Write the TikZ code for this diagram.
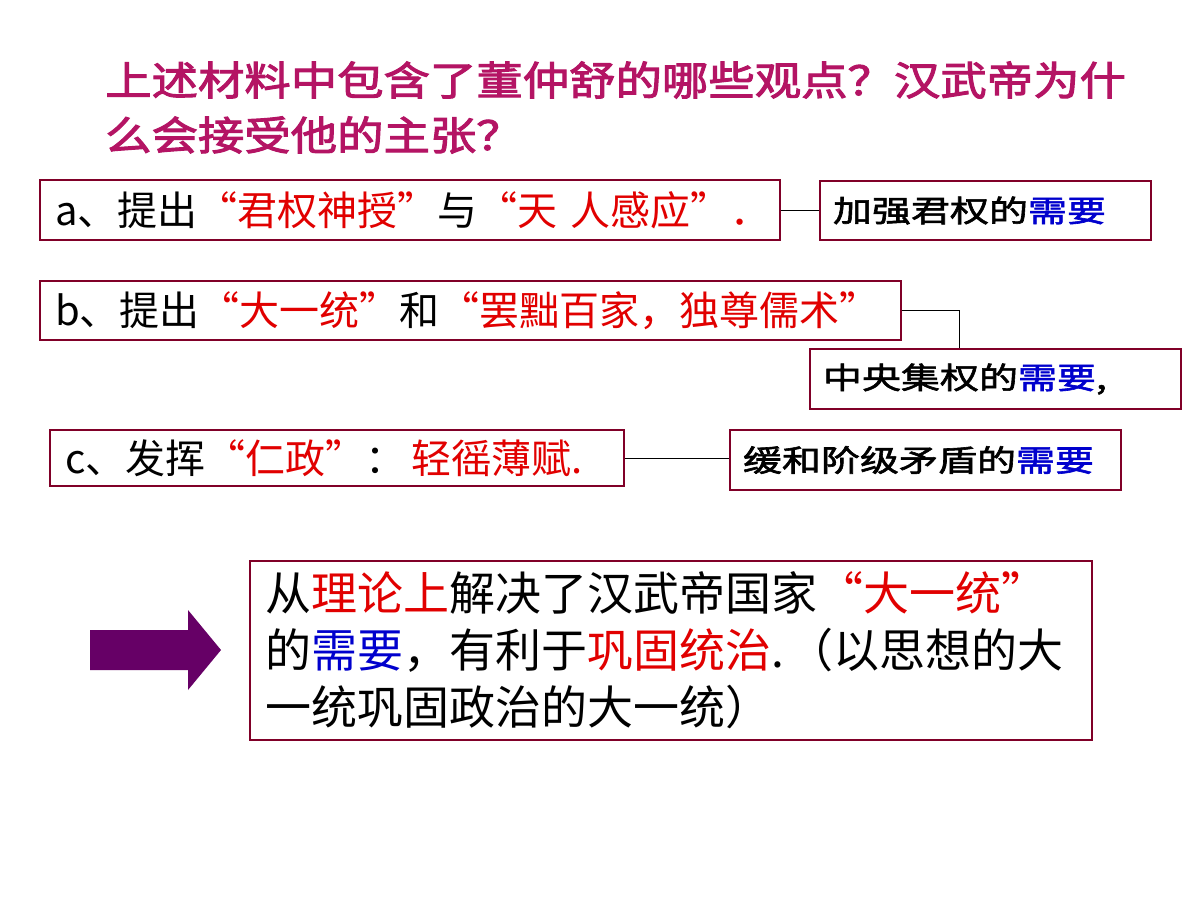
\documentclass[tikz,border=0pt]{standalone}
\usepackage{fontspec}
\setmainfont{Noto Sans CJK SC}
\newfontfamily\titlefont[FakeBold=2.5,FakeStretch=1.16]{Noto Sans CJK SC}
\newfontfamily\notefont[FakeBold=2,FakeStretch=1.3]{Noto Sans CJK SC}
\definecolor{boxline}{RGB}{128,0,40}
\definecolor{titlecol}{RGB}{180,20,100}
\definecolor{hired}{RGB}{225,0,0}
\definecolor{hiblue}{RGB}{0,0,205}
\definecolor{arrowcol}{RGB}{102,0,102}
\newcommand{\rd}[1]{\textcolor{hired}{#1}}
\newcommand{\bl}[1]{\textcolor{hiblue}{#1}}
\begin{document}
\begin{tikzpicture}[x=1pt,y=-1pt,
  mainbox/.style={draw=boxline, line width=1.3pt, rectangle, inner xsep=15pt, inner ysep=0pt,
    align=left, font=\fontsize{40}{46}\selectfont},
  notebox/.style={draw=boxline, line width=1.3pt, rectangle, inner xsep=13pt, inner ysep=0pt,
    align=left, font=\notefont\fontsize{30}{36}\selectfont},
  bigbox/.style={draw=boxline, line width=1.3pt, rectangle, inner xsep=15pt, inner ysep=0pt,
    align=left, font=\fontsize{46}{57}\selectfont},
  titletext/.style={anchor=west, inner sep=0pt, text=titlecol, font=\titlefont\fontsize{40}{46}\selectfont},
  link/.style={draw=black, line width=0.8pt}]
\useasboundingbox (0,0) rectangle (1200,900);
\fill[white] (0,0) rectangle (1200,900);

% title
\node[titletext] (title1) at (105,80) {上述材料中包含了董仲舒的哪些观点？汉武帝为什};
\node[titletext] (title2) at (105,135) {么会接受他的主张？};

% left boxes
\node[mainbox, minimum width=740pt, minimum height=60pt, text width=710pt] (boxA) at (410,210)
  {\mbox{a、提出\rd{“君权神授”}与\rd{“天 人感应”．}}};
\node[mainbox, minimum width=861pt, minimum height=59pt, text width=831pt] (boxB) at (470.5,310.5)
  {\mbox{b、提出\rd{“大一统”}和\rd{“罢黜百家，独尊儒术”}}};
\node[mainbox, minimum width=574pt, minimum height=56pt, text width=544pt] (boxC) at (337,458)
  {\mbox{c、发挥\rd{“仁政”}：\hspace{6pt}\rd{轻徭薄赋.}}};

% right boxes
\node[notebox, minimum width=331pt, minimum height=59pt, text width=305pt] (noteA) at (985.5,210.5)
  {\mbox{加强君权的\bl{需要}}};
\node[notebox, minimum width=371pt, minimum height=60pt, text width=345pt] (noteB) at (995.5,379)
  {\mbox{中央集权的\bl{需要},}};
\node[notebox, minimum width=391pt, minimum height=60pt, text width=365pt] (noteC) at (925.5,460)
  {\mbox{缓和阶级矛盾的\bl{需要}}};

% connectors
\draw[link] (boxA.east) -- (noteA.west |- boxA.east);
\draw[link] (boxB.east) -| ([xshift=150pt]noteB.north west);
\draw[link] (boxC.east) -- (noteC.west |- boxC.east);

% big arrow
\fill[arrowcol] (90,630) -- (188,630) -- (188,610) -- (221,650) -- (188,690) -- (188,670) -- (90,670) -- cycle;

% conclusion box
\node[bigbox, minimum width=842pt, minimum height=179pt, text width=812pt] (concl) at (671,650.5)
  {从\rd{理论上}解决了汉武帝国家\rd{“大一统”}\\
   的\bl{需要}，有利于\rd{巩固统治}.\hspace{4pt}（以思想的大\\
   一统巩固政治的大一统）};
\end{tikzpicture}
\end{document}
